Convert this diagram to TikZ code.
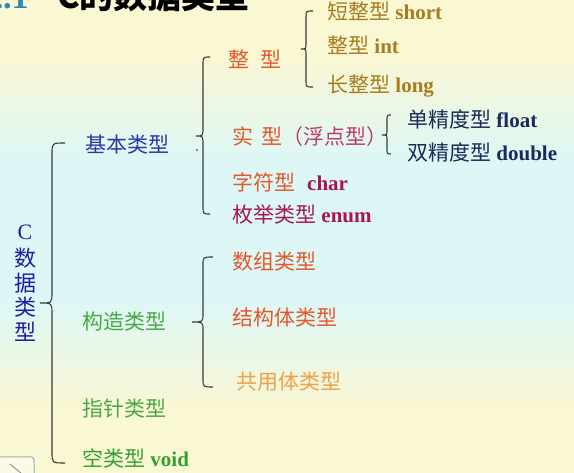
\documentclass[tikz,border=0pt]{standalone}
\usepackage{fontspec}
\setmainfont{Liberation Serif}
\newfontfamily\cjk{Noto Sans CJK SC}
\newcommand\lat[1]{{\rmfamily\bfseries #1}}
\newcommand\cbrace[7]{% xe, xl, xt, yt, ym, yb, r
  \draw[bracestyle] (#1,#4) .. controls (#2,#4) .. (#2,#4+#7) -- (#2,#5-#7)
    .. controls (#2,#5) .. (#3,#5) .. controls (#2,#5) .. (#2,#5+#7)
    -- (#2,#6-#7) .. controls (#2,#6) .. (#1,#6);}
\definecolor{bgY}{HTML}{FAF7D3}
\definecolor{bgC}{HTML}{DDF7F6}
\definecolor{titleblue}{HTML}{2F86B8}
\definecolor{vblue}{HTML}{1E1E9E}
\definecolor{blueT}{HTML}{2838A8}
\definecolor{greenT}{HTML}{48A848}
\definecolor{greenD}{HTML}{34A034}
\definecolor{orangeT}{HTML}{E4582A}
\definecolor{lorange}{HTML}{F0A048}
\definecolor{magT}{HTML}{C03A6A}
\definecolor{crim}{HTML}{A8164E}
\definecolor{olive}{HTML}{A87C20}
\definecolor{navy}{HTML}{1A2A5A}
\definecolor{bracecol}{HTML}{3A3A3A}
\definecolor{btn}{HTML}{8FB0BC}
\tikzset{
  bracestyle/.style={draw=bracecol, line width=1.1pt},
  lbl/.style={anchor=base west, inner sep=0pt, font=\fontsize{21}{25}\selectfont\cjk},
  vlbl/.style={anchor=center, inner sep=0pt, text=vblue, font=\fontsize{22}{26}\selectfont\cjk},
  ttlfont/.style={anchor=base west, inner sep=0pt, font=\fontsize{34}{40}\selectfont\cjk\bfseries},
}
\begin{document}
\begin{tikzpicture}[x=1pt,y=-1pt]
\useasboundingbox (0,0) rectangle (574,473);
% background
\fill[bgY] (0,0) rectangle (574,56);
\shade[top color=bgY, bottom color=bgC] (0,55) rectangle (574,161);
\fill[bgC] (0,160) rectangle (574,301);
\shade[top color=bgC, bottom color=bgY] (0,300) rectangle (574,411);
\fill[bgY] (0,410) rectangle (574,473);
% title (cut off at top)
\node[ttlfont, text=titleblue] (tnum) at (-14,9) {\rmfamily\bfseries 2.1};
\node[ttlfont, text=black] (ttl) at (57,9) {C的数据类型};
% navigation button
\draw[draw=btn, line width=1pt, rounded corners=3pt, fill=bgY!60!white] (-6,457) rectangle (34,482);
\coordinate (btnA) at (10,464);
\coordinate (btnB) at (22,474);
\draw[draw=btn!80!black, line width=0.8pt] (btnA) -- (btnB);
% vertical label
\node[vlbl] (v0) at (25,232) {\rmfamily C};
\node[vlbl] (v1) at (25,258) {数};
\node[vlbl] (v2) at (25,283) {据};
\node[vlbl] (v3) at (25,307) {类};
\node[vlbl] (v4) at (25,332) {型};
% braces
\cbrace{65}{52}{40}{143}{303}{463}{11}
\cbrace{210}{203}{196}{57}{136}{214}{8}
\cbrace{313}{306}{301}{11}{49}{87}{6}
\cbrace{391}{387}{382}{115}{135}{154}{5}
\cbrace{213}{203}{192}{257}{322}{387}{8}
\fill[magT] (197,150) circle (1.2);
% level 1
\node[lbl, text=blueT] (jb) at (85,153) {基本类型};
\node[lbl, text=greenT] (gz) at (82,330) {构造类型};
\node[lbl, text=greenT] (zz) at (82,417) {指针类型};
\node[lbl, text=greenD] (kl) at (82,467) {空类型\lat{ void}};
% level 2
\node[lbl, text=orangeT] (zx) at (228,68) {整\hspace{11pt}型};
\node[lbl, text=orangeT] (sx) at (232,145) {实\hspace{8pt}型\textcolor{magT}{（浮点型）}};
\node[lbl, text=orangeT] (zf) at (232,191) {字符型\hspace{12pt}\textcolor{crim}{\lat{char}}};
\node[lbl, text=crim] (mj) at (232,223) {枚举类型\lat{ enum}};
\node[lbl, text=orangeT] (sz) at (232,270) {数组类型};
\node[lbl, text=orangeT] (jg) at (232,326) {结构体类型};
\node[lbl, text=lorange] (gy) at (236,390) {共用体类型};
% level 3
\node[lbl, text=olive] (dz) at (327,20) {短整型\lat{ short}};
\node[lbl, text=olive] (zi) at (327,54) {整型\lat{ int}};
\node[lbl, text=olive] (cz) at (327,93) {长整型\lat{ long}};
\node[lbl, text=navy] (dj) at (407,128) {单精度型\lat{ float}};
\node[lbl, text=navy] (sj) at (407,161) {双精度型\lat{ double}};
\end{tikzpicture}
\end{document}
